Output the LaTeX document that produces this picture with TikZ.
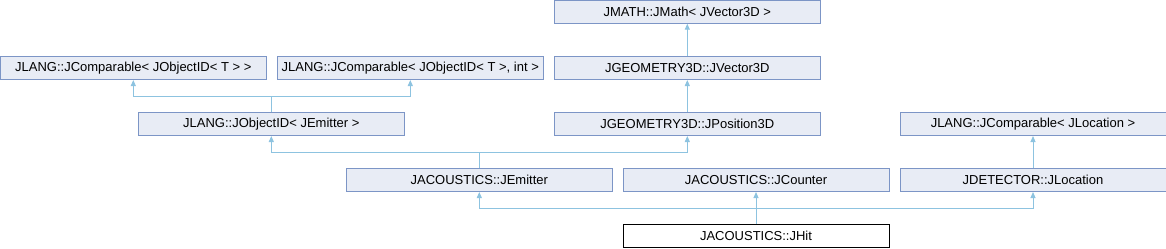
\documentclass[tikz,border=0pt]{standalone}
\usepackage{fontspec}
\setmainfont{Liberation Sans}
\usepackage{tikz}
\usetikzlibrary{arrows.meta}

\definecolor{boxfill}{HTML}{E8ECF5}
\definecolor{boxline}{HTML}{7C95C6}
\definecolor{edgeline}{HTML}{8DC3E0}

\tikzset{
  cls/.style={draw=boxline, fill=boxfill, line width=0.75pt, minimum width=266*0.75pt,
    minimum height=23*0.75pt, inner sep=0pt, font=\fontsize{9.75}{11}\selectfont},
  this/.style={cls, draw=black, fill=white},
  inh/.style={draw=edgeline, line width=0.75pt,
    -{Triangle[width=3.75pt, length=4.5pt]}}
}

\begin{document}
\begin{tikzpicture}[x=0.75pt, y=0.75pt]
                \useasboundingbox (0,0) rectangle (1166,-248);

                % Nodes
                \node[cls] (0) at (687.3,-11.7) {JMATH::JMath< JVector3D >};
                \node[cls] (1) at (133.3,-68) {JLANG::JComparable< JObjectID< T > >};
                \node[cls] (2) at (410.3,-68) {JLANG::JComparable< JObjectID< T >, int >};
                \node[cls] (3) at (687.3,-68) {JGEOMETRY3D::JVector3D};
                \node[cls] (4) at (271.3,-124) {JLANG::JObjectID< JEmitter >};
                \node[cls] (5) at (687.3,-124) {JGEOMETRY3D::JPosition3D};
                \node[cls] (6) at (1033,-124) {JLANG::JComparable< JLocation >};
                \node[cls] (7) at (479.3,-180) {JACOUSTICS::JEmitter};
                \node[cls] (8) at (756,-180) {JACOUSTICS::JCounter};
                \node[cls] (9) at (1033,-180) {JDETECTOR::JLocation};
                \node[this] (10) at (756,-236) {JACOUSTICS::JHit};

                % Junctions
                \coordinate (j4) at (271.3,-96.5);
                \coordinate (j7) at (479.3,-152.5);
                \coordinate (j10) at (756,-208.5);

                % Edges
                \draw[inh] (3)--(0);
                \draw[inh] (5)--(3);
                \draw[inh] (9)--(6);
                \draw[inh] (4.north)--(j4)-|(1.south);
                \draw[inh] (j4)-|(2.south);
                \draw[inh] (7.north)--(j7)-|(4.south);
                \draw[inh] (j7)-|(5.south);
                \draw[inh] (10.north)--(j10)-|(7.south);
                \draw[inh] (j10)--(8.south);
                \draw[inh] (j10)-|(9.south);
            \end{tikzpicture}
\end{document}
